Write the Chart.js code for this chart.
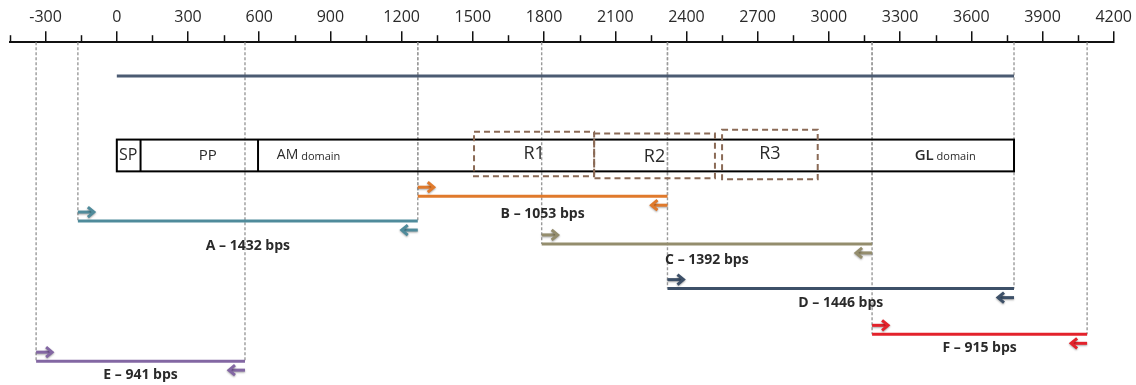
<!DOCTYPE html>
<html><head><meta charset="utf-8">
<script src="https://cdn.jsdelivr.net/npm/chart.js@4"></script>
<style>html,body{margin:0;padding:0;background:#fff}</style>
</head><body>
<canvas id="c" width="1136" height="385"></canvas>
<script>
// ---- data ----
const majorTicks = [-300,0,300,600,900,1200,1500,1800,2100,2400,2700,3000,3300,3600,3900,4200];
const minorTicks = [-450,-150,150,450,750,1050,1350,1650,1950,2250,2550,2850,3150,3450,3750,4050];
const geneLength = 3780;
const domainBounds = [0,100,595,3780];
const domainNames = ['SP','PP','AM','GL'];
const domainSub = ['','','domain','domain'];
const domainLabelAt = [48,383,808,3490];
const regionNames = ['R1','R2','R3'];
const regionStarts = [1505,2011,2550];
const regionEnds = [2011,2520,2953];
const primerNames = ['A','B','C','D','E','F'];
const primerStarts = [-164,1268,1790,2320,-340,3182];
const primerEnds = [1268,2320,3182,3780,540,4088];
const primerSizes = [1432,1053,1392,1446,941,915];

// ---- layout / style (not data) ----
const primerColors = ['#4f8b9b','#e07a2c','#948d6d','#3d5068','#8367a3','#e3222b'];
const primerRow = [180,155,203,248,321,294];
const primerLabelRow = [205,173,219,262,335,308];
const geneRow = 34, boxTop = 98, boxBottom = 130;
const regionTop = [90,92,88], regionBottom = [135,137,138], regionLabelRow = [112,115,112];
const domainFont = ['16px','15px','14px','600 15px'];
const FONT = '"Open Sans", "DejaVu Sans", sans-serif';

const datasets = [];
// vertical dashed guides from axis to each primer end
primerNames.forEach((n,i)=>{
  [primerStarts[i], primerEnds[i]].forEach(v=>{
    datasets.push({type:'line', data:[{x:v,y:0},{x:v,y:primerRow[i]}], borderColor:'#9a9a9a', borderWidth:1.4, borderDash:[3,2], pointRadius:0, clip:false, order:3});
  });
});
// gene line
datasets.push({type:'line', data:[{x:0,y:geneRow},{x:geneLength,y:geneRow}], borderColor:'#4b5b72', borderWidth:3, pointRadius:0, clip:false, order:1});
// primer amplicon lines
primerNames.forEach((n,i)=>{
  datasets.push({type:'line', label:n, data:[{x:primerStarts[i],y:primerRow[i]},{x:primerEnds[i],y:primerRow[i]}], borderColor:primerColors[i], borderWidth:3, pointRadius:0, clip:false, order:1});
});

function arrow(ctx, x0, x1, y, color){
  const dir = Math.sign(x1-x0);
  ctx.save();
  ctx.shadowColor='rgba(0,0,0,0.35)'; ctx.shadowBlur=2; ctx.shadowOffsetY=1;
  ctx.strokeStyle=color; ctx.lineWidth=3; ctx.lineCap='butt'; ctx.lineJoin='miter';
  ctx.beginPath(); ctx.moveTo(x0,y); ctx.lineTo(x1-dir*2,y); ctx.stroke();
  ctx.beginPath(); ctx.moveTo(x1-dir*6,y-5); ctx.lineTo(x1,y); ctx.lineTo(x1-dir*6,y+5); ctx.stroke();
  ctx.restore();
}

const drawPlugin = {
  id:'diagram',
  afterDatasetsDraw(chart){
    const ctx = chart.ctx, xs = chart.scales.x, ys = chart.scales.y;
    const top = chart.chartArea.top;
    // minor ticks
    ctx.save(); ctx.strokeStyle='#111'; ctx.lineWidth=1.5;
    minorTicks.forEach(v=>{ const x=Math.round(xs.getPixelForValue(v))+0.5; ctx.beginPath(); ctx.moveTo(x,top-7); ctx.lineTo(x,top); ctx.stroke(); });
    ctx.restore();
    // domain box
    const y0 = ys.getPixelForValue(boxTop), y1 = ys.getPixelForValue(boxBottom);
    ctx.save(); ctx.strokeStyle='#000'; ctx.lineWidth=2;
    const bx0 = xs.getPixelForValue(domainBounds[0]), bx1 = xs.getPixelForValue(domainBounds[domainBounds.length-1]);
    ctx.strokeRect(bx0, y0, bx1-bx0, y1-y0);
    domainBounds.slice(1,-1).forEach(v=>{ const x=xs.getPixelForValue(v); ctx.beginPath(); ctx.moveTo(x,y0); ctx.lineTo(x,y1); ctx.stroke(); });
    ctx.restore();
    // domain labels
    ctx.save(); ctx.fillStyle='#2a2a2a'; ctx.textBaseline='middle';
    const ym = (y0+y1)/2;
    domainNames.forEach((n,i)=>{
      const main = `${domainFont[i]} ${FONT}`, sub = `11px ${FONT}`;
      ctx.font = main; const w1 = ctx.measureText(n).width;
      ctx.font = sub; const w2 = domainSub[i] ? ctx.measureText(' '+domainSub[i]).width : 0;
      const cx = xs.getPixelForValue(domainLabelAt[i]);
      let x = cx - (w1+w2)/2;
      ctx.textAlign='left'; ctx.font = main; ctx.fillText(n, x, ym);
      if (domainSub[i]) { ctx.font = sub; ctx.fillText(' '+domainSub[i], x+w1, ym+1); }
    });
    ctx.restore();
    // regions
    ctx.save(); ctx.strokeStyle='#8a6a56'; ctx.lineWidth=2; ctx.setLineDash([6,4]);
    regionNames.forEach((n,i)=>{
      const rx0=xs.getPixelForValue(regionStarts[i]), rx1=xs.getPixelForValue(regionEnds[i]);
      const ry0=ys.getPixelForValue(regionTop[i]), ry1=ys.getPixelForValue(regionBottom[i]);
      ctx.strokeRect(rx0,ry0,rx1-rx0,ry1-ry0);
    });
    ctx.setLineDash([]); ctx.fillStyle='#2a2a2a'; ctx.font=`18px ${FONT}`; ctx.textAlign='center'; ctx.textBaseline='middle';
    regionNames.forEach((n,i)=>{
      const cx=(xs.getPixelForValue(regionStarts[i])+xs.getPixelForValue(regionEnds[i]))/2;
      ctx.fillText(n, cx, ys.getPixelForValue(regionLabelRow[i]));
    });
    ctx.restore();
    // primer arrows and labels
    primerNames.forEach((n,i)=>{
      const xa=xs.getPixelForValue(primerStarts[i]), xb=xs.getPixelForValue(primerEnds[i]);
      const y=ys.getPixelForValue(primerRow[i]);
      arrow(ctx, xa, xa+16, y-9, primerColors[i]);
      arrow(ctx, xb, xb-16, y+9, primerColors[i]);
      ctx.save(); ctx.fillStyle='#2a2a2a'; ctx.font=`bold 14px ${FONT}`; ctx.textAlign='center'; ctx.textBaseline='middle';
      ctx.fillText(`${n} \u2013 ${primerSizes[i]} bps`, (xa+xb)/2, ys.getPixelForValue(primerLabelRow[i]));
      ctx.restore();
    });
  }
};

new Chart(document.getElementById('c'), {
  type:'line',
  data:{datasets},
  options:{
    responsive:false, animation:false, devicePixelRatio:1,
    layout:{padding:{left:10,right:21,top:4,bottom:0}},
    plugins:{legend:{display:false}, tooltip:{enabled:false}},
    scales:{
      x:{type:'linear', position:'top', min:-450, max:4200,
         afterBuildTicks:s=>{ s.ticks = majorTicks.map(v=>({value:v})); },
         ticks:{font:{family:FONT,size:16}, color:'#2a2a2a', padding:4, maxRotation:0, autoSkip:false, callback:v=>String(v)},
         grid:{drawOnChartArea:false, drawTicks:true, tickLength:11, color:'#111', lineWidth:1.5},
         border:{display:true, color:'#111', width:2}},
      y:{type:'linear', display:false, min:0, max:345, reverse:true}
    }
  },
  plugins:[drawPlugin]
});
</script>
</body></html>
